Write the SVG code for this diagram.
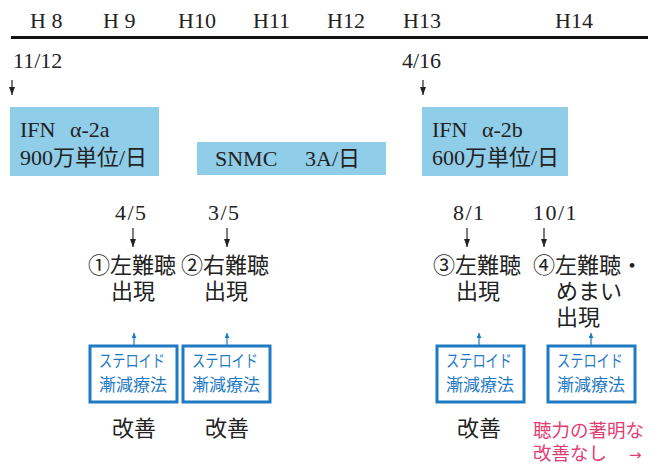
<svg xmlns="http://www.w3.org/2000/svg" width="661" height="466" viewBox="0 0 661 466">
<defs>
<style>
.ser{font-family:"Liberation Serif","Noto Sans CJK JP",serif;font-size:22px;fill:#222}
.dt{font-family:"Liberation Serif",serif;font-size:22px;fill:#222;letter-spacing:1.5px}
.boxt{font-family:"Liberation Serif","Noto Sans CJK JP",serif;font-size:22px;fill:#222}
.jp{font-family:"Noto Sans CJK JP",sans-serif;font-size:22px;fill:#222}
.drug{fill:#8fcde8}
.ster{fill:#fff;stroke:#1f7ac4;stroke-width:3}
.stt{font-family:"Noto Sans CJK JP",sans-serif;font-size:17px;fill:#1f7ac4}
.red{font-family:"Noto Sans CJK JP",sans-serif;font-size:18.5px;fill:#e23d73}
.ar{stroke:#222;stroke-width:1.2;fill:none;marker-end:url(#ah)}
.bar{stroke:#1f7ac4;stroke-width:1.2;fill:none;marker-end:url(#bh)}
</style>
<marker id="ah" viewBox="0 0 8 6" refX="8" refY="3" markerWidth="8" markerHeight="6" markerUnits="userSpaceOnUse" orient="auto">
<path d="M0,0 L8,3 L0,6 Z" fill="#222"/>
</marker>
<marker id="bh" viewBox="0 0 6 6" refX="6" refY="3" markerWidth="5" markerHeight="5" markerUnits="userSpaceOnUse" orient="auto">
<path d="M0,0 L6,3 L0,6 Z" fill="#1f7ac4"/>
</marker>
</defs>
<rect width="661" height="466" fill="#fff"/>

<g id="timeline">
<text class="ser" x="30" y="28">H 8</text>
<text class="ser" x="103" y="28">H 9</text>
<text class="ser" x="178" y="28">H10</text>
<text class="ser" x="253" y="28">H11</text>
<text class="ser" x="327" y="28">H12</text>
<text class="ser" x="403" y="28">H13</text>
<text class="ser" x="555" y="28">H14</text>
<line x1="11" y1="37.5" x2="648" y2="37.5" stroke="#111" stroke-width="3"/>
</g>

<g id="start1"><text class="ser" x="13" y="68">11/12</text></g>
<g id="start2"><text class="ser" x="402" y="68">4/16</text></g>

<g id="ifn2a">
<rect class="drug" x="10" y="107" width="149" height="69"/>
<text class="boxt" x="20" y="137">IFN<tspan x="70">α-2a</tspan></text>
<text class="boxt" x="20" y="165">900万単位/日</text>
</g>
<g id="snmc">
<rect class="drug" x="197" y="142" width="189" height="33"/>
<text class="boxt" x="215" y="166">SNMC<tspan x="305">3A/日</tspan></text>
</g>
<g id="ifn2b">
<rect class="drug" x="422" y="107" width="146" height="69"/>
<text class="boxt" x="432" y="137">IFN<tspan x="482">α-2b</tspan></text>
<text class="boxt" x="432" y="165">600万単位/日</text>
</g>

<g id="ev1">
<text class="dt" x="115" y="220">4/5</text>
<text class="jp" x="88" y="273">①左難聴</text>
<text class="jp" x="111" y="299">出現</text>
</g>
<g id="ev2">
<text class="dt" x="208" y="220">3/5</text>
<text class="jp" x="181" y="273">②右難聴</text>
<text class="jp" x="204" y="299">出現</text>
</g>
<g id="ev3">
<text class="dt" x="453" y="220">8/1</text>
<text class="jp" x="433" y="273">③左難聴</text>
<text class="jp" x="456" y="299">出現</text>
</g>
<g id="ev4">
<text class="dt" x="533" y="220">10/1</text>
<text class="jp" x="533" y="273">④左難聴・</text>
<text class="jp" x="556" y="299">めまい</text>
<text class="jp" x="556" y="325">出現</text>
</g>

<g id="st1">
<rect class="ster" x="90" y="346" width="87" height="56"/>
<text class="stt" x="99" y="367" textLength="66" lengthAdjust="spacingAndGlyphs">ステロイド</text>
<text class="stt" x="99" y="391">漸減療法</text>
</g>
<g id="st2">
<rect class="ster" x="183" y="346" width="87" height="56"/>
<text class="stt" x="192" y="367" textLength="66" lengthAdjust="spacingAndGlyphs">ステロイド</text>
<text class="stt" x="192" y="391">漸減療法</text>
</g>
<g id="st3">
<rect class="ster" x="437" y="346" width="87" height="56"/>
<text class="stt" x="446" y="367" textLength="66" lengthAdjust="spacingAndGlyphs">ステロイド</text>
<text class="stt" x="446" y="391">漸減療法</text>
</g>
<g id="st4">
<rect class="ster" x="548" y="346" width="87" height="56"/>
<text class="stt" x="557" y="367" textLength="66" lengthAdjust="spacingAndGlyphs">ステロイド</text>
<text class="stt" x="557" y="391">漸減療法</text>
</g>

<g id="res1"><text class="jp" x="112" y="436">改善</text></g>
<g id="res2"><text class="jp" x="205" y="436">改善</text></g>
<g id="res3"><text class="jp" x="457" y="436">改善</text></g>
<g id="res4">
<text class="red" x="533" y="437">聴力の著明な</text>
<text class="red" x="533" y="460">改善なし<tspan x="629" style="font-family:'DejaVu Sans',sans-serif;font-size:15px">→</tspan></text>
</g>

<g id="connectors">
<path class="ar" d="M12,80 V95"/>
<path class="ar" d="M423,80 V95"/>
<path class="ar" d="M133,228 V247"/>
<path class="ar" d="M227,228 V247"/>
<path class="ar" d="M467,228 V247"/>
<path class="ar" d="M544,228 V247"/>
<path class="bar" d="M134,345 V333"/>
<path class="bar" d="M227,345 V333"/>
<path class="bar" d="M479,345 V333"/>
<path class="bar" d="M591,345 V333"/>
</g>
</svg>
